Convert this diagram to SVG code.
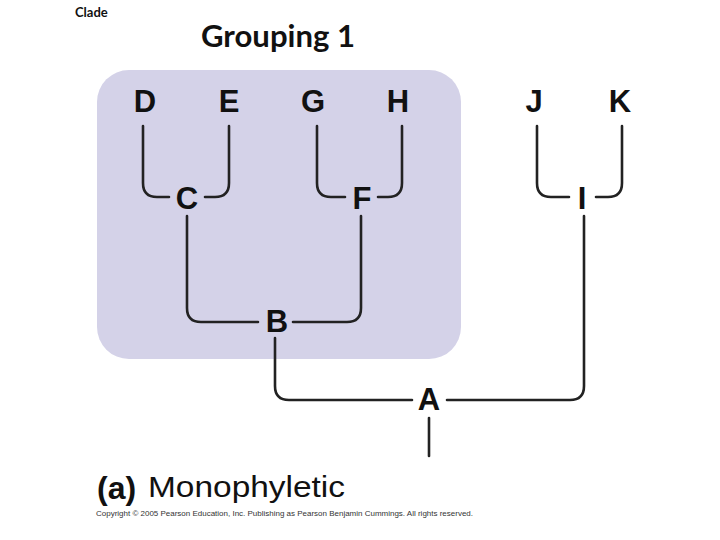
<svg xmlns="http://www.w3.org/2000/svg" width="720" height="540" viewBox="0 0 720 540">
<style>
.lbl{font-family:"Liberation Sans",Arial,sans-serif;font-weight:bold;font-size:31px;fill:#111;text-anchor:middle}
.ln{fill:none;stroke:#222;stroke-width:2.6;stroke-linecap:round}
</style>
<rect width="720" height="540" fill="#fff"/>
<rect x="97" y="70" width="364" height="289" rx="32" ry="32" fill="#d4d2e8"/>
<text x="75" y="17" font-family="Lato,'Open Sans',sans-serif" font-weight="bold" font-size="13" fill="#111">Clade</text>
<text x="201" y="47" font-family="Lato,'Open Sans',sans-serif" font-weight="bold" font-size="30" fill="#111" textLength="154" lengthAdjust="spacingAndGlyphs">Grouping 1</text>
<g id="connectors">
<path class="ln" d="M143,126 V183 Q143,197 157,197 H169"/>
<path class="ln" d="M229,126 V183 Q229,197 215,197 H205"/>
<path class="ln" d="M317,126 V183 Q317,197 331,197 H345"/>
<path class="ln" d="M402,126 V183 Q402,197 388,197 H378"/>
<path class="ln" d="M537,126 V183 Q537,197 551,197 H569"/>
<path class="ln" d="M622,126 V183 Q622,197 608,197 H596"/>
<path class="ln" d="M187,216 V308 Q187,322 201,322 H258"/>
<path class="ln" d="M361,216 V308 Q361,322 347,322 H293"/>
<path class="ln" d="M275,338 V386 Q275,400 289,400 H412"/>
<path class="ln" d="M584,216 V386 Q584,400 570,400 H447"/>
<path class="ln" d="M429,418 V456"/>
</g>
<g id="D"><text class="lbl" x="145" y="112">D</text></g>
<g id="E"><text class="lbl" x="229" y="112">E</text></g>
<g id="G"><text class="lbl" x="313" y="112">G</text></g>
<g id="H"><text class="lbl" x="398" y="112">H</text></g>
<g id="J"><text class="lbl" x="534" y="112">J</text></g>
<g id="K"><text class="lbl" x="620" y="112">K</text></g>
<g id="C"><text class="lbl" x="187" y="209">C</text></g>
<g id="F"><text class="lbl" x="362" y="209">F</text></g>
<g id="I"><text class="lbl" x="582" y="209">I</text></g>
<g id="B"><text class="lbl" x="277" y="332">B</text></g>
<g id="A"><text class="lbl" x="429" y="410">A</text></g>
<text x="97" y="499" font-family="'Liberation Sans',Arial,sans-serif" font-weight="bold" font-size="32" fill="#111">(a)</text>
<text x="148" y="497" font-family="'Liberation Sans',Arial,sans-serif" font-size="30" fill="#111" textLength="197" lengthAdjust="spacingAndGlyphs">Monophyletic</text>
<text x="96" y="516" font-family="'Liberation Sans',Arial,sans-serif" font-size="8" fill="#333" textLength="377" lengthAdjust="spacingAndGlyphs">Copyright © 2005 Pearson Education, Inc. Publishing as Pearson Benjamin Cummings. All rights reserved.</text>
</svg>
